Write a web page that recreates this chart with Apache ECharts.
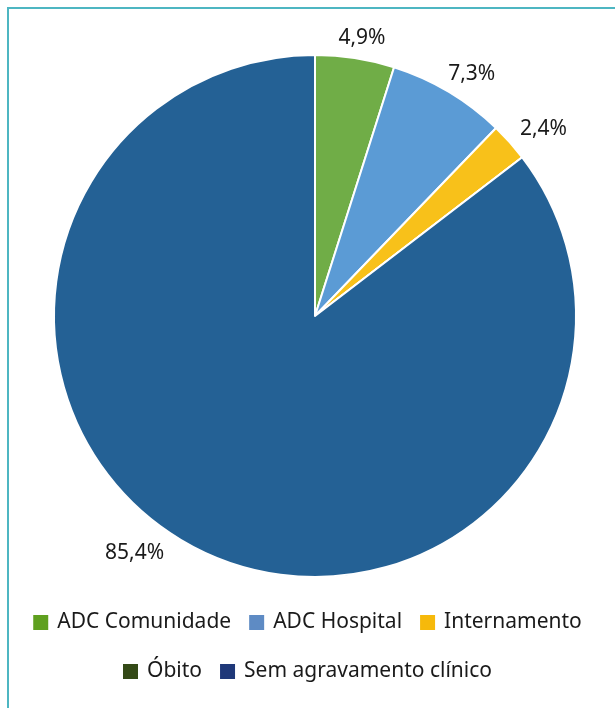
<!DOCTYPE html>
<html>
<head>
<meta charset="utf-8">
<script src="https://cdn.jsdelivr.net/npm/echarts@6/dist/echarts.min.js"></script>
<style>
html,body{margin:0;padding:0;background:#fff;}
#chart{width:615px;height:708px;}
</style>
</head>
<body>
<div id="chart"></div>
<script>
var categories = ['ADC Comunidade', 'ADC Hospital', 'Internamento', 'Óbito', 'Sem agravamento clínico'];
var values = [4.9, 7.3, 2.4, 0, 85.4];
var sliceColors = ['#70AD47', '#5B9BD5', '#F8C11A', '#375623', '#246195'];
var legendColors = ['#5FA01F', '#5E8BC4', '#F6B90B', '#344A17', '#1F3879'];

var CX = 315, CY = 316, R = 261;
var total = values.reduce(function(a, b){ return a + b; }, 0);
function midAngle(i){
  var s = 0;
  for (var k = 0; k < i; k++) s += values[k];
  return (s + values[i] / 2) / total * 2 * Math.PI;
}
var angleShift = {4: 8 * Math.PI / 180};

var chart = echarts.init(document.getElementById('chart'), null, {renderer: 'canvas'});
var font = '"Noto Sans", "Open Sans", sans-serif';
function legendData(idx){
  return idx.map(function(i){
    return {name: categories[i], itemStyle: {color: legendColors[i], borderWidth: 0}};
  });
}
var legendCommon = {
  left: 'center',
  itemWidth: 15, itemHeight: 15, itemGap: 18,
  icon: 'rect',
  itemStyle: {borderWidth: 0},
  textStyle: {fontFamily: font, fontSize: 21, color: '#1a1a1a', padding: [0, 0, 0, 4]}
};
chart.setOption({
  backgroundColor: '#fff',
  animation: false,
  graphic: [{
    type: 'rect',
    shape: {x: 8, y: 8, width: 640, height: 740},
    style: {fill: 'none', stroke: '#4DB6C2', lineWidth: 2},
    silent: true
  }],
  legend: [
    Object.assign({data: legendData([0, 1, 2]), top: 607}, legendCommon),
    Object.assign({data: legendData([3, 4]), top: 656}, legendCommon)
  ],
  series: [{
    type: 'pie',
    center: [CX, CY],
    radius: [0, R],
    startAngle: 90,
    clockwise: true,
    avoidLabelOverlap: false,
    itemStyle: {borderColor: '#fff', borderWidth: 2},
    label: {
      show: true,
      position: 'outside',
      fontFamily: font,
      fontSize: 21,
      color: '#1a1a1a',
      formatter: function(p){ return p.value.toFixed(1).replace('.', ',') + '%'; }
    },
    labelLine: {show: false},
    emphasis: {disabled: true},
    labelLayout: function(p){
      var i = p.dataIndex;
      var a = midAngle(i) + (angleShift[i] || 0);
      var w = p.labelRect.width, h = p.labelRect.height;
      var d = R + 10 + (i === 4 ? 5 : 0);
      return {
        x: CX + d * Math.sin(a) + Math.sin(a) * 0.75 * w,
        y: CY - d * Math.cos(a) - Math.cos(a) * h / 2,
        align: 'center',
        verticalAlign: 'middle'
      };
    },
    data: categories.map(function(c, i){
      var item = {name: c, value: values[i], itemStyle: {color: sliceColors[i]}};
      if (values[i] === 0) item.label = {show: false};
      return item;
    })
  }]
});
</script>
</body>
</html>
